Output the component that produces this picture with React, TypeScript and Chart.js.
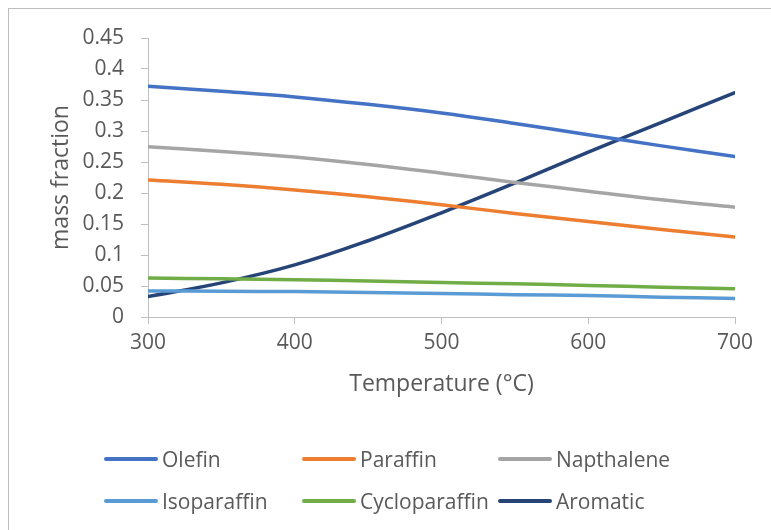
import React, { useEffect, useRef } from "react";
import { Chart, registerables } from "chart.js";

Chart.register(...registerables);

const temperatures = [300, 350, 400, 450, 500, 550, 600, 650, 700];
const olefin = [0.372, 0.364, 0.355, 0.343, 0.329, 0.312, 0.294, 0.276, 0.259];
const paraffin = [0.221, 0.214, 0.205, 0.194, 0.181, 0.167, 0.154, 0.141, 0.129];
const napthalene = [0.2745, 0.267, 0.258, 0.246, 0.232, 0.217, 0.203, 0.189, 0.177];
const isoparaffin = [0.042, 0.0415, 0.041, 0.0395, 0.038, 0.036, 0.0345, 0.032, 0.030];
const cycloparaffin = [0.063, 0.0615, 0.060, 0.058, 0.0555, 0.0535, 0.051, 0.048, 0.0455];
const aromatic = [0.033, 0.055, 0.084, 0.123, 0.168, 0.216, 0.266, 0.314, 0.362];

const seriesNames = ["Olefin", "Paraffin", "Napthalene", "Isoparaffin", "Cycloparaffin", "Aromatic"];
const seriesValues = [olefin, paraffin, napthalene, isoparaffin, cycloparaffin, aromatic];
const seriesColors = ["#4472C4", "#ED7D31", "#A5A5A5", "#5B9BD5", "#70AD47", "#264478"];

const xTickValues = [300, 400, 500, 600, 700];
const yTickValues = [0, 0.05, 0.1, 0.15, 0.2, 0.25, 0.3, 0.35, 0.4, 0.45];

const FONT = "'Open Sans', sans-serif";
const TEXT = "#595959";
const AXIS = "#BFBFBF";

export default function App() {
  const ref = useRef<HTMLCanvasElement | null>(null);

  useEffect(() => {
    if (!ref.current) return;
    const chart = new Chart(ref.current, {
      type: "line",
      data: {
        datasets: seriesNames.map((name, i) => ({
          label: name,
          data: temperatures.map((t, j) => ({ x: t, y: seriesValues[i][j] })),
          borderColor: seriesColors[i],
          backgroundColor: seriesColors[i],
          borderWidth: 3.5,
          pointRadius: 0,
          tension: 0.4,
          borderCapStyle: "round" as const,
          fill: false,
        })),
      },
      options: {
        animation: false,
        responsive: false,
        devicePixelRatio: 1,
        layout: { padding: { left: 0, right: 36, top: 38, bottom: 123 } },
        plugins: { legend: { display: false }, tooltip: { enabled: false } },
        scales: {
          x: {
            type: "linear",
            min: 300,
            max: 700,
            afterBuildTicks: (s: any) => {
              s.ticks = xTickValues.map((v) => ({ value: v }));
            },
            afterFit: (s: any) => {
              s.height = 90;
            },
            grid: { drawOnChartArea: false, drawTicks: true, tickLength: 7, color: AXIS },
            border: { display: true, color: AXIS, width: 1 },
            ticks: { color: TEXT, font: { family: FONT, size: 21 }, padding: 6, maxRotation: 0 },
            title: {
              display: true,
              text: "Temperature (°C)",
              color: TEXT,
              font: { family: FONT, size: 23 },
              padding: { top: 0, bottom: 9 },
            },
          },
          y: {
            type: "linear",
            min: 0,
            max: 0.45,
            afterBuildTicks: (s: any) => {
              s.ticks = yTickValues.map((v) => ({ value: v }));
            },
            afterFit: (s: any) => {
              s.width = 148;
            },
            grid: { drawOnChartArea: false, drawTicks: true, tickLength: 7, color: AXIS },
            border: { display: true, color: AXIS, width: 1 },
            ticks: {
              color: TEXT,
              font: { family: FONT, size: 21 },
              padding: 17,
              callback: (v: any) => String(Math.round(Number(v) * 100) / 100),
            },
            title: {
              display: true,
              text: "mass fraction",
              color: TEXT,
              font: { family: FONT, size: 23 },
              padding: { top: 48, bottom: 0 },
            },
          },
        },
      },
    });
    return () => chart.destroy();
  }, []);

  const colX = [104, 302, 498];
  const rowY = [459, 501];

  return (
    <div style={{ position: "fixed", left: 0, top: 0, width: 771, height: 530, background: "#fff", overflow: "hidden" }}>
      <div
        style={{
          position: "absolute",
          left: 8,
          top: 8,
          width: 800,
          height: 600,
          borderTop: "1px solid #BDBDBD",
          borderLeft: "1px solid #BDBDBD",
        }}
      />
      <canvas ref={ref} width={771} height={530} style={{ position: "absolute", left: 0, top: 0, width: 771, height: 530 }} />
      {seriesNames.map((name, i) => (
        <div
          key={name}
          style={{
            position: "absolute",
            left: colX[i % 3],
            top: rowY[Math.floor(i / 3)] - 15,
            height: 30,
            display: "flex",
            alignItems: "center",
            fontFamily: FONT,
            fontSize: 21,
            color: TEXT,
            whiteSpace: "nowrap",
          }}
        >
          <span
            style={{
              display: "inline-block",
              width: 54,
              height: 4,
              borderRadius: 2,
              background: seriesColors[i],
              marginRight: 4,
            }}
          />
          <span>{name}</span>
        </div>
      ))}
    </div>
  );
}
